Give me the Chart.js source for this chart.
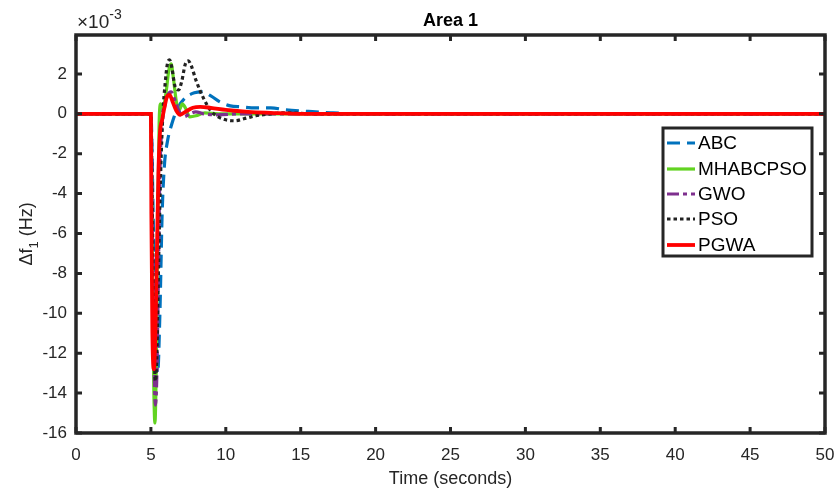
<!DOCTYPE html>
<html lang="en">
<head>
    <meta charset="UTF-8">
    <title>Area 1</title>
    <script src="https://cdn.jsdelivr.net/npm/chart.js"></script>
    <style>
        body { margin: 0; background: #fff; }
        .chart-container { position: relative; width: 837px; height: 495px; }
    </style>
</head>
<body>
    <div class="chart-container">
        <canvas id="freqChart"></canvas>
    </div>

    <script>
        // tick labels
        const xTicks = [0, 5, 10, 15, 20, 25, 30, 35, 40, 45, 50];
        const yTicks = [-16, -14, -12, -10, -8, -6, -4, -2, 0, 2];

        // series (values in units of 1e-3 Hz)
        const abcT = [0, 5.0, 5.15, 5.3, 5.45, 5.6, 5.75, 5.9, 6.1, 6.4, 6.8, 7.3, 7.9, 8.4, 9.0, 9.6, 10.3, 11, 12, 13, 14, 15.5, 17, 19, 50];
        const abcV = [0, 0, -5, -11, -13, -10, -5, -2.6, -1.4, -0.5, 0.3, 0.8, 1.05, 1.1, 0.9, 0.6, 0.4, 0.35, 0.3, 0.3, 0.2, 0.12, 0.05, 0, 0];

        const mhaT = [0, 5.0, 5.1, 5.2, 5.27, 5.35, 5.45, 5.55, 5.65, 5.8, 6.0, 6.2, 6.35, 6.5, 6.7, 6.9, 7.1, 7.3, 7.6, 8.0, 8.6, 9.5, 50];
        const mhaV = [0, 0, -8, -14, -15.5, -13, -6, -0.5, 0.5, 0.3, 1.0, 2.2, 2.5, 1.8, 0.6, 0.2, 0.5, 0.3, -0.15, -0.1, 0.05, 0, 0];

        const gwoT = [0, 5.0, 5.1, 5.2, 5.3, 5.4, 5.5, 5.6, 5.75, 5.9, 6.1, 6.35, 6.6, 6.9, 7.2, 7.6, 8.0, 8.5, 9.5, 11, 50];
        const gwoV = [0, 0, -6, -12, -14.6, -13, -8, -3, -0.5, 0.3, 0.9, 1.1, 0.7, 0.1, -0.15, 0, 0.1, 0, -0.05, 0, 0];

        const psoT = [0, 5.0, 5.1, 5.2, 5.3, 5.4, 5.5, 5.65, 5.8, 5.95, 6.1, 6.25, 6.4, 6.6, 6.85, 7.05, 7.3, 7.5, 7.7, 8.0, 8.5, 9.0, 9.5, 10.0, 10.6, 11.2, 12, 13, 14, 16, 50];
        const psoV = [0, 0, -5, -11, -13.4, -12, -8, -3, 0, 1.5, 2.5, 2.7, 2.3, 1.4, 1.2, 1.6, 2.5, 2.65, 2.4, 1.7, 0.8, 0.15, -0.15, -0.3, -0.35, -0.25, -0.1, 0, 0.05, 0, 0];

        const pgwaT = [0, 5.0, 5.03, 5.1, 5.2, 5.3, 5.4, 5.5, 5.6, 5.75, 5.9, 6.1, 6.25, 6.45, 6.7, 6.95, 7.3, 7.8, 8.3, 9.0, 10, 11.5, 13, 15, 50];
        const pgwaV = [0, 0, -5, -11, -12.8, -11, -7, -3, -1, -0.3, 0.3, 0.9, 0.95, 0.6, 0.15, -0.05, 0.1, 0.3, 0.35, 0.3, 0.2, 0.1, 0.05, 0, 0];

        const axisColor = '#262626';
        const fontFamily = '"Liberation Sans", Arial, sans-serif';

        function pts(t, v) {
            return t.map((x, i) => ({ x: x, y: v[i] }));
        }

        function series(label, t, v, color, width, dash, order) {
            return {
                label: label,
                data: pts(t, v),
                borderColor: color,
                borderWidth: width,
                borderDash: dash,
                borderCapStyle: 'butt',
                pointRadius: 0,
                fill: false,
                cubicInterpolationMode: 'monotone',
                order: order
            };
        }

        // frame, inward ticks, titles and the legend box
        const decorations = {
            id: 'decorations',
            afterDraw(chart) {
                const ctx = chart.ctx;
                const a = chart.chartArea;
                const xs = chart.scales.x, ys = chart.scales.y;
                ctx.save();
                ctx.strokeStyle = axisColor;
                ctx.lineWidth = 3.5;
                ctx.strokeRect(a.left, a.top, a.right - a.left, a.bottom - a.top);

                ctx.lineWidth = 3;
                ctx.beginPath();
                xTicks.forEach(v => {
                    const px = xs.getPixelForValue(v);
                    ctx.moveTo(px, a.bottom); ctx.lineTo(px, a.bottom - 6);
                    ctx.moveTo(px, a.top); ctx.lineTo(px, a.top + 6);
                });
                yTicks.forEach(v => {
                    const py = ys.getPixelForValue(v);
                    ctx.moveTo(a.left, py); ctx.lineTo(a.left + 6, py);
                    ctx.moveTo(a.right, py); ctx.lineTo(a.right - 6, py);
                });
                ctx.stroke();

                ctx.fillStyle = '#000';
                ctx.textAlign = 'center';
                ctx.textBaseline = 'middle';
                ctx.font = 'bold 18px ' + fontFamily;
                ctx.fillText('Area 1', (a.left + a.right) / 2, 21);

                ctx.fillStyle = axisColor;
                ctx.font = '18px ' + fontFamily;
                ctx.fillText('Time (seconds)', (a.left + a.right) / 2, 479);

                // exponent
                ctx.textAlign = 'left';
                ctx.textBaseline = 'alphabetic';
                ctx.font = '19px ' + fontFamily;
                ctx.fillText('\u00d710', 77, 28);
                const w10 = ctx.measureText('\u00d710').width;
                ctx.font = '14px ' + fontFamily;
                ctx.fillText('-3', 77 + w10, 19);

                // y label with subscript
                ctx.translate(27, (a.top + a.bottom) / 2);
                ctx.rotate(-Math.PI / 2);
                ctx.font = '18px ' + fontFamily;
                const p1 = '\u0394f', p3 = ' (Hz)';
                const w1 = ctx.measureText(p1).width;
                const w3 = ctx.measureText(p3).width;
                ctx.font = '13px ' + fontFamily;
                const w2 = ctx.measureText('1').width;
                let x0 = -(w1 + w2 + w3) / 2;
                ctx.textBaseline = 'middle';
                ctx.font = '18px ' + fontFamily;
                ctx.fillText(p1, x0, 0);
                ctx.font = '13px ' + fontFamily;
                ctx.fillText('1', x0 + w1, 7);
                ctx.font = '18px ' + fontFamily;
                ctx.fillText(p3, x0 + w1 + w2, 0);
                ctx.restore();

                // legend
                ctx.save();
                const lx = 663, ly = 128, lw = 149, lh = 128;
                ctx.fillStyle = '#fff';
                ctx.fillRect(lx, ly, lw, lh);
                ctx.strokeStyle = axisColor;
                ctx.lineWidth = 3;
                ctx.strokeRect(lx, ly, lw, lh);
                ctx.font = '19px ' + fontFamily;
                ctx.textBaseline = 'middle';
                ctx.textAlign = 'left';
                const rows = [143, 169, 194, 219, 245];
                chart.data.datasets.forEach((ds, i) => {
                    const y = rows[i];
                    ctx.strokeStyle = ds.borderColor;
                    ctx.lineWidth = ds.borderWidth;
                    ctx.setLineDash(ds.borderDash || []);
                    ctx.beginPath();
                    ctx.moveTo(667, y); ctx.lineTo(695, y);
                    ctx.stroke();
                    ctx.setLineDash([]);
                    ctx.fillStyle = '#000';
                    ctx.fillText(ds.label, 698, y + 1);
                });
                ctx.restore();
            }
        };

        const ctx = document.getElementById('freqChart').getContext('2d');
        const chart = new Chart(ctx, {
            type: 'line',
            data: {
                datasets: [
                    series('ABC', abcT, abcV, '#0072BD', 3.2, [13, 7], 4),
                    series('MHABCPSO', mhaT, mhaV, '#62D321', 3.2, [], 3),
                    series('GWO', gwoT, gwoV, '#7E2F8E', 3.2, [12, 4, 4, 4], 2),
                    series('PSO', psoT, psoV, '#222222', 3.2, [3.5, 3], 1),
                    series('PGWA', pgwaT, pgwaV, '#FF0000', 3.8, [], 0)
                ]
            },
            options: {
                responsive: true,
                maintainAspectRatio: false,
                animation: false,
                layout: { padding: { left: 0, right: 12, top: 35, bottom: 0 } },
                plugins: { legend: { display: false }, tooltip: { enabled: false } },
                scales: {
                    x: {
                        type: 'linear',
                        min: 0,
                        max: 50,
                        afterBuildTicks: s => { s.ticks = xTicks.map(v => ({ value: v })); },
                        afterFit: s => { s.height = 62; s.paddingLeft = 0; s.paddingRight = 0; },
                        grid: { display: false, drawTicks: false },
                        border: { display: false },
                        ticks: { color: axisColor, padding: 12, maxRotation: 0, font: { family: fontFamily, size: 17 } }
                    },
                    y: {
                        type: 'linear',
                        min: -16,
                        max: 3.95,
                        afterBuildTicks: s => { s.ticks = yTicks.map(v => ({ value: v })); },
                        afterFit: s => { s.width = 76; s.paddingTop = 0; s.paddingBottom = 0; },
                        grid: { display: false, drawTicks: false },
                        border: { display: false },
                        ticks: { color: axisColor, padding: 9, font: { family: fontFamily, size: 17 } }
                    }
                }
            },
            plugins: [decorations]
        });
    </script>
</body>
</html>
